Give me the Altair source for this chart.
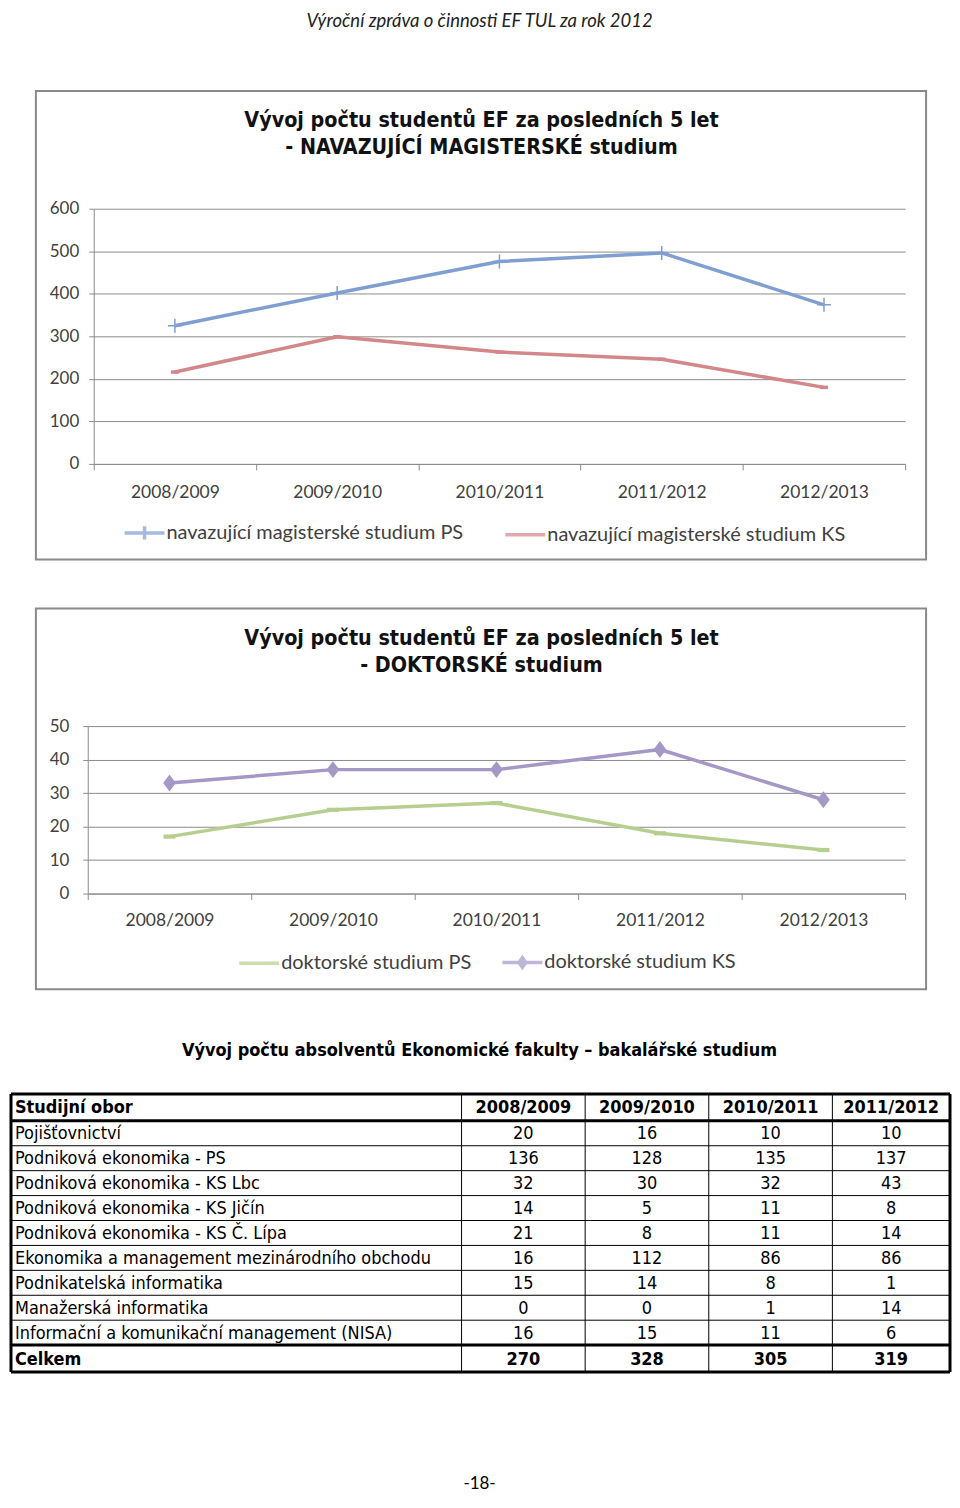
import altair as alt
import pandas as pd

# ---------------- data ----------------
years = ["2008/2009", "2009/2010", "2010/2011", "2011/2012", "2012/2013"]

mag_series = ["navazující magisterské studium PS", "navazující magisterské studium KS"]
mag_ps = [325, 402, 476, 496, 374]
mag_ks = [216, 299, 263, 246, 180]

dok_series = ["doktorské studium PS", "doktorské studium KS"]
dok_ps = [17, 25, 27, 18, 13]
dok_ks = [33, 37, 37, 43, 28]

header_text = "Výroční zpráva o činnosti EF TUL za rok 2012"
mag_title = ["Vývoj počtu studentů EF za posledních 5 let", "- NAVAZUJÍCÍ MAGISTERSKÉ studium"]
dok_title = ["Vývoj počtu studentů EF za posledních 5 let", "- DOKTORSKÉ studium"]
table_title = "Vývoj počtu absolventů Ekonomické fakulty – bakalářské studium"
footer_text = "-18-"

table_head = ["Studijní obor", "2008/2009", "2009/2010", "2010/2011", "2011/2012"]
obory = [
    "Pojišťovnictví",
    "Podniková ekonomika - PS",
    "Podniková ekonomika - KS  Lbc",
    "Podniková ekonomika - KS  Jičín",
    "Podniková ekonomika - KS Č. Lípa",
    "Ekonomika a management mezinárodního obchodu",
    "Podnikatelská informatika",
    "Manažerská informatika",
    "Informační a komunikační management (NISA)",
]
v0809 = [20, 136, 32, 14, 21, 16, 15, 0, 16]
v0910 = [16, 128, 30, 5, 8, 112, 14, 0, 15]
v1011 = [10, 135, 32, 11, 11, 86, 8, 1, 11]
v1112 = [10, 137, 43, 8, 14, 86, 1, 14, 6]
celkem_label = "Celkem"
celkem = [270, 328, 305, 319]

# ---------------- styles ----------------
FONT_AX = "Lato"
FONT_TTL = "DejaVu Sans Condensed, DejaVu Sans"
FONT_TAB = "DejaVu Sans Condensed, DejaVu Sans"
GRID = "#8c8c8c"
LBL = "#404040"
FRAME = "#8a8a8a"
C_BLUE, C_RED = "#7f9ed2", "#d4878a"
C_GREEN, C_PURPLE = "#b7cf8e", "#a597c6"

# marker shapes on the plot
P_CROSS = "M-1,0H1M0,-1V1"
P_DASH = "M-1,0H1"
P_BAR = "M-1,-0.35H1V0.35H-1Z"
P_DIAMOND = "M0,-1L0.75,0L0,1L-0.75,0Z"
# legend keys (line with marker)
L_LINE = "M-1,0H1"
L_CROSS = "M-1,0H1M0,-0.33V0.33"
L_DIAMOND = "M-1,0H1M0,-0.24L0.17,0L0,0.24L-0.17,0Z"

X0 = 93          # common page x of every panel's origin
PAGE_L, PAGE_R = 8, 952
PAGE_T = 11      # page y of the top of the drawing


def one():
    return pd.DataFrame({"k": [0]})


def box(x0, x1, y0, y1, **kw):
    return alt.Chart(one()).mark_rect(**kw).encode(
        x=alt.value(x0), x2=alt.value(x1), y=alt.value(y0), y2=alt.value(y1)
    )


def label(x, y, text, **kw):
    return alt.Chart(one()).mark_text(**kw).encode(
        x=alt.value(x), y=alt.value(y), text=alt.value(text)
    )


def line_panel(series, a, b, colors, ymax, ystep, axis_x, plot_r, oy,
               title_lines, title_xy, legend_xy, col_pad, frame, label_pad,
               xlabel_pad, markers, keys, extra=None):
    df = pd.DataFrame({
        "year": years * 2,
        "series": [series[0]] * len(a) + [series[1]] * len(b),
        "value": a + b,
    })
    W = plot_r - X0
    x = alt.X("year:N", sort=years, bandPosition=0.5,
              scale=alt.Scale(type="band", domain=years, paddingInner=0, paddingOuter=0,
                              range=[axis_x - X0, W]),
              axis=alt.Axis(title=None, tickBand="extent", tickSize=6, tickColor=GRID,
                            domainColor=GRID, labelFont=FONT_AX, labelFontSize=17.5,
                            labelColor=LBL, labelPadding=xlabel_pad, grid=False,
                            labelAngle=0))
    y = alt.Y("value:Q", scale=alt.Scale(domain=[0, ymax], nice=False),
              axis=alt.Axis(values=list(range(0, ymax + 1, ystep)), title=None,
                            grid=True, gridColor=GRID, domainColor=GRID,
                            tickColor=GRID, tickSize=5, labelFont=FONT_AX,
                            labelFontSize=17, labelColor=LBL, labelPadding=label_pad,
                            offset=X0 - axis_x))
    leg = alt.Legend(title=None, orient="none",
                     legendX=legend_xy[0] - X0, legendY=legend_xy[1] - oy,
                     direction="horizontal", symbolType="stroke",
                     symbolSize=1600, symbolStrokeWidth=3.5,
                     labelFont=FONT_AX, labelFontSize=20,
                     labelColor=LBL, columnPadding=col_pad,
                     labelOffset=0, padding=0, labelLimit=0)
    color = alt.Color("series:N", scale=alt.Scale(domain=series, range=colors), legend=leg)
    shape = alt.Shape("series:N", scale=alt.Scale(domain=series, range=keys), legend=leg)
    fr = box(frame[0] - X0, frame[1] - X0, frame[2] - oy, frame[3] - oy,
             fillOpacity=0, stroke=FRAME, strokeWidth=2)
    ttl = label(title_xy[0] - X0, title_xy[1] - oy, title_lines, font=FONT_TTL,
                fontWeight="bold", fontSize=21.4, lineHeight=27, align="center",
                baseline="alphabetic", color="#111111")
    lines = alt.Chart(df).mark_line(strokeWidth=3.5, strokeJoin="round").encode(
        x=x, y=y, color=color)
    # legend keys only: no rows survive the filter, so nothing is drawn on the plot
    keys_layer = alt.Chart(df).transform_filter("false").mark_point(
        filled=False).encode(x=x, y=y, color=color, shape=shape)
    layers = [fr, ttl]
    if extra is not None:
        layers.append(extra)
    layers += [lines, keys_layer]
    for s, (path, size, filled, sw, c) in zip(series, markers):
        layers.append(
            alt.Chart(df).transform_filter(alt.datum.series == s)
            .mark_point(shape=path, size=size, filled=filled, strokeWidth=sw, opacity=1)
            .encode(x=x, y=y, color=alt.value(c))
        )
    return layers, W


# chart 1 : plot area from page (93, 209) to (907, 465)
oy1 = 209
p1_layers, W1 = line_panel(
    mag_series, mag_ps, mag_ks, [C_BLUE, C_RED], 600, 100, 93, 907, oy1,
    mag_title, (482, 127), (122, 533 - 21), 35, (35, 928, 91, 561), 10, 14,
    [(P_CROSS, 196, False, 1.5, C_BLUE), (P_DASH, 64, False, 3.5, C_RED)],
    [L_CROSS, L_LINE],
    extra=label(480 - X0, 21 - oy1, header_text, font=FONT_AX, fontStyle="italic",
                fontSize=18.5, align="center", baseline="middle", color="#222222"),
)
spacer1 = box(PAGE_L - X0, PAGE_R - X0, PAGE_T - oy1, 585 - oy1, opacity=0)
p1 = alt.layer(spacer1, *p1_layers).properties(width=W1, height=256)

# chart 2 : plot area from page (87, 726) to (907, 894)
oy2 = 726
p2_layers, W2 = line_panel(
    dok_series, dok_ps, dok_ks, [C_GREEN, C_PURPLE], 50, 10, 87, 907, oy2,
    dok_title, (482, 645), (237, 961 - 20), 24, (35, 928, 608, 990), 14, 12,
    [(P_BAR, 144, True, 0, C_GREEN), (P_DIAMOND, 289, True, 0, C_PURPLE)],
    [L_LINE, L_DIAMOND],
)
spacer2 = box(PAGE_L - X0, PAGE_R - X0, 585 - oy2, 1020 - oy2, opacity=0)
p2 = alt.layer(spacer2, *p2_layers).properties(width=W2, height=168)

# table : top-left corner at page (10, 1093)
tx0, oy3 = 10, 1093
COL_W = [452, 124, 124, 124, 118]
ROW_H = [27] + [25] * len(obory) + [27]
col_edges = [0]
for w in COL_W:
    col_edges.append(col_edges[-1] + w)
row_edges = [0]
for h in ROW_H:
    row_edges.append(row_edges[-1] + h)
TW, TH = col_edges[-1], row_edges[-1]

rows = [table_head]
for i, name in enumerate(obory):
    rows.append([name, v0809[i], v0910[i], v1011[i], v1112[i]])
rows.append([celkem_label] + celkem)

cells = []
for r, row in enumerate(rows):
    for c, val in enumerate(row):
        cells.append({
            "t": str(val),
            "x": col_edges[0] + 4 if c == 0 else (col_edges[c] + col_edges[c + 1]) / 2,
            "y": (row_edges[r] + row_edges[r + 1]) / 2 + 1,
            "bold": r == 0 or r == len(rows) - 1,
            "first": c == 0,
        })
cells = pd.DataFrame(cells)

segs = []
for i, e in enumerate(row_edges):
    thick = i in (0, 1, len(row_edges) - 2, len(row_edges) - 1)
    segs.append({"x": 0, "x2": TW, "y": e, "y2": e, "w": 3 if thick else 1})
for i, e in enumerate(col_edges):
    thick = i in (0, len(col_edges) - 1)
    segs.append({"x": e, "x2": e, "y": 0, "y2": TH, "w": 3 if thick else 1})
segs = pd.DataFrame(segs).sort_values("w")

xs = alt.Scale(domain=[0, TW], range=[tx0 - X0, tx0 - X0 + TW], nice=False, zero=False)
ys = alt.Scale(domain=[0, TH], nice=False, zero=False, reverse=True)

rules = alt.Chart(segs).mark_rule(color="#000000").encode(
    x=alt.X("x:Q", scale=xs, axis=None), x2="x2:Q",
    y=alt.Y("y:Q", scale=ys, axis=None), y2="y2:Q",
    strokeWidth=alt.StrokeWidth("w:Q", scale=None),
)


def text_layer(first, bold):
    return alt.Chart(cells).transform_filter(
        (alt.datum.first == first) & (alt.datum.bold == bold)
    ).mark_text(font=FONT_TAB, fontSize=18, fontWeight="bold" if bold else "normal",
                align="left" if first else "center", baseline="middle",
                color="#000000").encode(
        x=alt.X("x:Q", scale=xs, axis=None),
        y=alt.Y("y:Q", scale=ys, axis=None),
        text="t:N",
    )


spacer3 = box(PAGE_L - X0, PAGE_R - X0, 1020 - oy3, 1490 - oy3, opacity=0)
ttl3 = label(480 - X0, 1050 - oy3, table_title, font=FONT_TAB, fontWeight="bold",
             fontSize=18, align="center", baseline="middle", color="#000000")
foot = label(480 - X0, 1484 - oy3, footer_text, font=FONT_AX, fontSize=17,
             align="center", baseline="middle", color="#000000")
p3 = alt.layer(spacer3, ttl3, foot, rules,
               text_layer(True, False), text_layer(True, True),
               text_layer(False, False), text_layer(False, True)
               ).properties(width=PAGE_R - X0 - 2, height=TH)

chart = alt.vconcat(p1, p2, p3, spacing=0).resolve_scale(
    color="independent", shape="independent", x="independent", y="independent"
).resolve_legend(color="independent", shape="independent").properties(
    padding=0
).configure_view(stroke="transparent").configure_concat(spacing=0)

chart.save("out.html", embed_options={"renderer": "svg", "actions": False})
